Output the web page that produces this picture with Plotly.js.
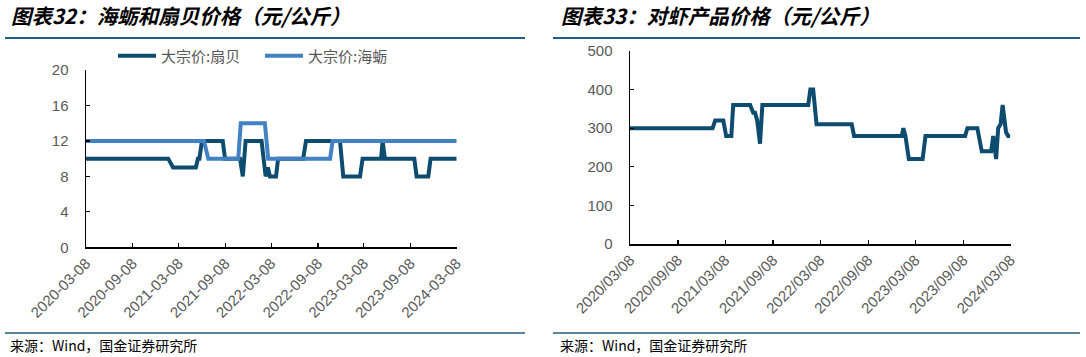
<!DOCTYPE html>
<html>
<head>
<meta charset="utf-8">
<script src="https://cdn.plot.ly/plotly-3.0.1.min.js"></script>
<style>
html,body{margin:0;padding:0;background:#fff;}
#chart{width:1086px;height:357px;}
</style>
</head>
<body>
<div id="chart"></div>
<script>
// ---- data ----
const tickDates = ['2020-03-08','2020-09-08','2021-03-08','2021-09-08','2022-03-08','2022-09-08','2023-03-08','2023-09-08','2024-03-08'];
const leftTickLabels = ['2020-03-08','2020-09-08','2021-03-08','2021-09-08','2022-03-08','2022-09-08','2023-03-08','2023-09-08','2024-03-08'];
const rightTickLabels = ['2020/03/08','2020/09/08','2021/03/08','2021/09/08','2022/03/08','2022/09/08','2023/03/08','2023/09/08','2024/03/08'];

const scallopName = '大宗价:扇贝';
const scallopDates = ['2020-03-08','2021-01-26','2021-02-14','2021-05-15','2021-05-23','2021-05-29','2021-06-08','2021-08-29','2021-09-07','2021-11-05','2021-11-16','2021-11-27','2022-01-29','2022-02-14','2022-02-23','2022-03-03','2022-03-27','2022-04-04','2022-07-12','2022-07-23','2022-12-04','2022-12-17','2023-02-21','2023-03-03','2023-05-15','2023-05-21','2023-05-30','2023-09-23','2023-10-02','2023-11-17','2023-11-26','2024-03-08'];
const scallopValues = [10,10,9,9,10,10,12,12,10,10,8,12,12,8,9,8,8,10,10,12,12,8,8,10,10,12,10,10,8,8,10,10];

const oysterName = '大宗价:海蛎';
const oysterDates = ['2020-03-08','2021-06-16','2021-07-03','2021-10-29','2021-11-08','2022-02-11','2022-02-24','2022-10-26','2022-11-05','2024-03-08'];
const oysterValues = [12,12,10,10,14,14,10,10,12,12];

const shrimpName = '对虾';
const shrimpDates = ['2020-03-08','2021-01-19','2021-01-29','2021-03-01','2021-03-12','2021-04-01','2021-04-08','2021-06-12','2021-06-24','2021-07-01','2021-07-09','2021-07-20','2021-07-29','2022-01-21','2022-01-29','2022-02-09','2022-02-22','2022-07-07','2022-07-16','2023-01-15','2023-01-21','2023-01-29','2023-02-11','2023-04-05','2023-04-16','2023-09-15','2023-09-24','2023-11-01','2023-11-18','2023-12-24','2024-01-01','2024-01-12','2024-01-20','2024-01-29','2024-02-06','2024-02-19','2024-02-27','2024-03-06'];
const shrimpValues = [300,300,320,320,280,280,360,360,340,340,320,260,360,360,400,400,310,310,280,280,300,280,220,220,280,280,300,300,240,240,280,220,300,310,360,290,280,280];

const leftTitle = '图表32：海蛎和扇贝价格（元/公斤）';
const rightTitle = '图表33：对虾产品价格（元/公斤）';
const sourceText = '来源：Wind，国金证券研究所';

// ---- layout helpers ----
const W = 1086, H = 357;
const px = v => v / W;
const py = v => 1 - v / H;

const darkBlue = '#0d4b6f';
const lightBlue = '#4281c2';
const tickFont = {family: 'Liberation Sans, Arial, sans-serif', size: 15, color: '#595959'};

const traces = [
  {x: scallopDates, y: scallopValues, name: scallopName, type: 'scatter', mode: 'lines',
   line: {color: darkBlue, width: 4}, xaxis: 'x', yaxis: 'y'},
  {x: oysterDates, y: oysterValues, name: oysterName, type: 'scatter', mode: 'lines',
   line: {color: lightBlue, width: 4}, xaxis: 'x', yaxis: 'y'},
  {x: shrimpDates, y: shrimpValues, name: shrimpName, type: 'scatter', mode: 'lines',
   line: {color: darkBlue, width: 4}, xaxis: 'x2', yaxis: 'y2', showlegend: false}
];

const xCommon = {
  type: 'date', tickvals: tickDates, tickangle: -45, tickfont: tickFont,
  showgrid: false, zeroline: false, showline: true, linecolor: '#000', linewidth: 1.5,
  ticks: 'inside', ticklen: 4, tickcolor: '#000', tickwidth: 1.2,
  range: ['2020-03-08', '2024-03-08'], fixedrange: true
};
const yCommon = {
  showgrid: false, zeroline: false, showline: true, linecolor: '#000', linewidth: 1.5,
  ticks: 'inside', ticklen: 4, tickcolor: '#000', tickwidth: 1.2, tickfont: tickFont,
  ticklabelstandoff: 13, fixedrange: true
};

const layout = {
  width: W, height: H,
  margin: {l: 0, r: 0, t: 0, b: 0},
  paper_bgcolor: '#fff', plot_bgcolor: '#fff',
  font: {family: 'Noto Sans CJK SC, sans-serif'},
  xaxis: Object.assign({}, xCommon, {domain: [px(86), px(456.7)], anchor: 'y', ticktext: leftTickLabels}),
  yaxis: Object.assign({}, yCommon, {domain: [py(247.3), py(70)], anchor: 'x', range: [0, 20], dtick: 4, tick0: 0}),
  xaxis2: Object.assign({}, xCommon, {domain: [px(630), px(1010.7)], anchor: 'y2', ticktext: rightTickLabels}),
  yaxis2: Object.assign({}, yCommon, {domain: [py(244), py(51)], anchor: 'x2', range: [0, 500], dtick: 100, tick0: 0}),
  showlegend: true,
  legend: {
    orientation: 'h', x: px(113), xanchor: 'left', y: py(56), yanchor: 'middle',
    font: {family: 'Noto Sans CJK SC, sans-serif', size: 15, color: '#595959'},
    bgcolor: 'rgba(0,0,0,0)', entrywidth: 94, itemwidth: 38, traceorder: 'normal'
  },
  shapes: [
    {type: 'line', xref: 'paper', yref: 'paper', x0: px(5), x1: px(525), y0: py(38), y1: py(38), line: {color: '#1f5f80', width: 2}},
    {type: 'line', xref: 'paper', yref: 'paper', x0: px(553), x1: px(1080), y0: py(38), y1: py(38), line: {color: '#1f5f80', width: 2}},
    {type: 'line', xref: 'paper', yref: 'paper', x0: px(5), x1: px(525), y0: py(333), y1: py(333), line: {color: '#1f5f80', width: 1.5}},
    {type: 'line', xref: 'paper', yref: 'paper', x0: px(553), x1: px(1080), y0: py(333), y1: py(333), line: {color: '#1f5f80', width: 1.5}}
  ],
  annotations: [
    {text: leftTitle, xref: 'paper', yref: 'paper', x: px(9), y: py(15), xanchor: 'left', yanchor: 'middle', showarrow: false,
     font: {family: 'Noto Sans CJK SC, sans-serif', size: 20.5, color: '#000', weight: 'bold', style: 'italic'}},
    {text: rightTitle, xref: 'paper', yref: 'paper', x: px(559), y: py(15), xanchor: 'left', yanchor: 'middle', showarrow: false,
     font: {family: 'Noto Sans CJK SC, sans-serif', size: 20.5, color: '#000', weight: 'bold', style: 'italic'}},
    {text: sourceText, xref: 'paper', yref: 'paper', x: px(8), y: py(345), xanchor: 'left', yanchor: 'middle', showarrow: false,
     font: {family: 'Noto Sans CJK SC, sans-serif', size: 14, color: '#000'}},
    {text: sourceText, xref: 'paper', yref: 'paper', x: px(558), y: py(345), xanchor: 'left', yanchor: 'middle', showarrow: false,
     font: {family: 'Noto Sans CJK SC, sans-serif', size: 14, color: '#000'}}
  ]
};

Plotly.newPlot('chart', traces, layout, {displayModeBar: false, staticPlot: true});
</script>
</body>
</html>
